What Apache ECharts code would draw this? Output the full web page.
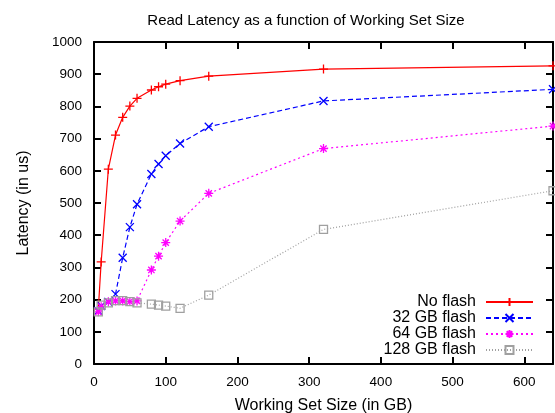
<!DOCTYPE html>
<html>
<head>
<meta charset="utf-8">
<script src="https://cdn.jsdelivr.net/npm/echarts@6/dist/echarts.min.js"></script>
<style>
html,body{margin:0;padding:0;background:#fff;}
#chart{width:555px;height:413px;}
</style>
</head>
<body>
<div id="chart"></div>
<script>
const titleText = 'Read Latency as a function of Working Set Size';
const xName = 'Working Set Size (in GB)';
const yName = 'Latency (in us)';
const seriesNames = ['No flash', '32 GB flash', '64 GB flash', '128 GB flash'];
const workingSet = [6, 10, 20, 30, 40, 50, 60, 80, 90, 100, 120, 160, 320, 640];
const noFlash   = [170, 317, 605, 711, 766, 801, 825, 851, 861, 869, 880, 894, 916, 926];
const flash32   = [165, 180, 193, 217, 330, 425, 496, 590, 621, 647, 685, 737, 817, 853];
const flash64   = [162, 178, 193, 196, 196, 194, 196, 292, 335, 377, 444, 530, 669, 739];
const flash128  = [162, 183, 190, 197, 197, 194, 190, 186, 183, 180, 173, 214, 418, 538];

const pair = vals => workingSet.map((x, i) => [x, vals[i]]);

const FONT = 'Liberation Sans';
const symPlus = 'path://M0,5L10,5M5,0L5,10';
const symCross = 'path://M0,0L10,10M10,0L0,10';
const symStar = 'path://M0,5L10,5M5,0L5,10M1.5,1.5L8.5,8.5M8.5,1.5L1.5,8.5';
const symSquare = 'path://M0,0L10,0L10,10L0,10Z';

function mk(name, vals, color, type, symbol, size, fill) {
  return {
    name: name,
    type: 'line',
    data: pair(vals),
    symbol: symbol,
    symbolSize: size,
    showAllSymbol: true,
    lineStyle: { color: color, width: 1.2, type: type },
    itemStyle: { color: fill, borderColor: color, borderWidth: 1.3 },
    emphasis: { disabled: true },
    animation: false,
    z: 3
  };
}

const chart = echarts.init(document.getElementById('chart'), null, { renderer: 'canvas' });
const axisCommon = {
  axisLine: { show: true, onZero: false, lineStyle: { color: '#000', width: 2 } },
  axisTick: { show: true, inside: true, length: 7, lineStyle: { color: '#000', width: 2 } },
  splitLine: { show: false }
};
chart.setOption({
  animation: false,
  title: {
    text: titleText,
    left: 301,
    top: 8,
    textAlign: 'center',
    textStyle: { fontFamily: FONT, fontSize: 15, fontWeight: 'normal', color: '#000' }
  },
  grid: { left: 94, right: 2, top: 42, bottom: 49, containLabel: false, outerBoundsMode: 'none' },
  legend: {
    orient: 'vertical',
    align: 'right',
    right: 21,
    top: 294,
    padding: 0,
    itemGap: 0,
    itemWidth: 47,
    itemHeight: 10,
    textStyle: { fontFamily: FONT, fontSize: 16, color: '#000', lineHeight: 16, padding: [0, 5, 0, 0] },
    data: seriesNames
  },
  xAxis: [
    Object.assign({}, axisCommon, {
      type: 'value', min: 0, max: 640, interval: 100, position: 'bottom',
      name: xName, nameLocation: 'middle', nameGap: 34,
      nameTextStyle: { fontFamily: FONT, fontSize: 16, color: '#000' },
      axisLabel: { fontFamily: FONT, fontSize: 13.5, color: '#000', margin: 11, showMaxLabel: false,
        formatter: v => String(v) }
    }),
    Object.assign({}, axisCommon, {
      type: 'value', min: 0, max: 640, interval: 100, position: 'top',
      axisLabel: { show: false }
    })
  ],
  yAxis: [
    Object.assign({}, axisCommon, {
      type: 'value', min: 0, max: 1000, interval: 100, position: 'left',
      name: yName, nameLocation: 'middle', nameGap: 62,
      nameTextStyle: { fontFamily: FONT, fontSize: 16, color: '#000' },
      axisLabel: { fontFamily: FONT, fontSize: 13.5, color: '#000', margin: 12,
        formatter: v => String(v) }
    }),
    Object.assign({}, axisCommon, {
      type: 'value', min: 0, max: 1000, interval: 100, position: 'right',
      axisLabel: { show: false }
    })
  ],
  series: [
    mk(seriesNames[0], noFlash, '#ff0000', 'solid', symPlus, 9, '#ff0000'),
    mk(seriesNames[1], flash32, '#0000ff', [5, 3], symCross, 8, '#0000ff'),
    mk(seriesNames[2], flash64, '#ff00ff', [2, 3], symStar, 9, '#ff00ff'),
    mk(seriesNames[3], flash128, '#a0a0a0', [1, 2], symSquare, 8, 'rgba(255,255,255,0)')
  ]
});
</script>
</body>
</html>
